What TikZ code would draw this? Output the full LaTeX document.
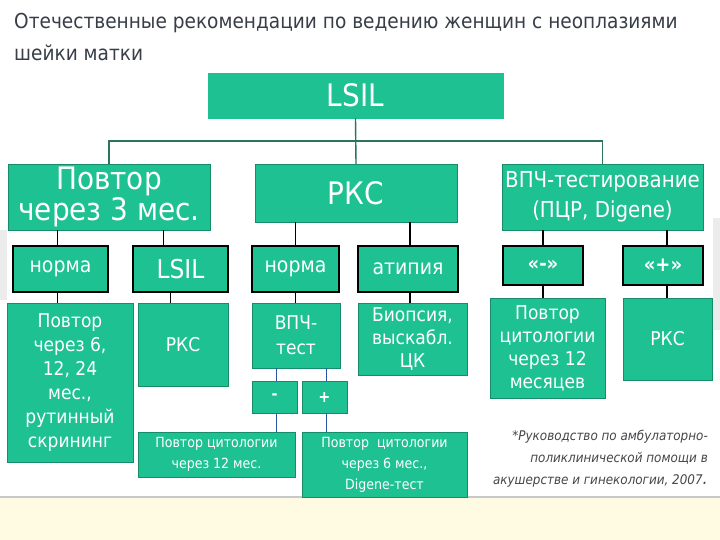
\documentclass[tikz,border=0pt]{standalone}
\usepackage{fontspec}
\setmainfont{DejaVu Sans}[FakeStretch=0.9]
\usepackage{xcolor}
\usepackage{tikz}
\usetikzlibrary{positioning, calc}
\definecolor{boxfill}{RGB}{30, 193, 146}
\definecolor{boxborder}{RGB}{22, 140, 105}
\definecolor{treeline}{RGB}{45, 115, 95}
\definecolor{testline}{RGB}{40, 85, 165}
\definecolor{titletext}{RGB}{55, 62, 72}
\definecolor{notetext}{RGB}{70, 70, 75}
\definecolor{bandfill}{RGB}{255, 250, 226}
\definecolor{bandedge}{RGB}{200, 200, 200}
\definecolor{sideshade}{RGB}{236, 236, 236}
\tikzset{
  baseblock/.style={
    rectangle, anchor=north west, inner sep=0pt, outer sep=0pt,
    fill=boxfill, text=white, align=center
  },
  topblock/.style={baseblock, draw=boxfill},
  stepblock/.style={baseblock, draw=boxborder, line width=0.8pt},
  resultblock/.style={baseblock, draw=black, line width=1.6pt},
  treelink/.style={draw=treeline, line width=1.4pt},
  stemlink/.style={draw=black, line width=1.6pt},
  testlink/.style={draw=testline, line width=1pt}
}

\begin{document}
\begin{tikzpicture}[x=1pt, y=-1pt]
  \useasboundingbox (0,0) rectangle (720,540);
  \fill[white] (0,0) rectangle (720,540);
  \fill[sideshade] (0,230) rectangle (7,300);
  \fill[sideshade] (713,218) rectangle (720,330);
  \fill[bandfill] (0,497) rectangle (720,540);
  \draw[bandedge, line width=2pt] (0,497) -- (720,497);

  % heading
  \node[anchor=north west, align=left, text=titletext, inner sep=0pt,
        font=\fontsize{20.6}{32}\selectfont] (heading) at (14,13)
    {Отечественные рекомендации по ведению женщин с неоплазиями\\шейки матки};

  % level 1 and 2
  \node[topblock, minimum width=295pt, minimum height=45pt,
        font=\fontsize{31}{34}\selectfont] (lsil) at (208,73) {LSIL};

  \node[stepblock, minimum width=202pt, minimum height=66pt,
        font=\fontsize{31}{29}\selectfont] (repeat3) at (8,164) {Повтор\\через 3 мес.};
  \node[stepblock, minimum width=202pt, minimum height=58pt,
        font=\fontsize{31}{32}\selectfont] (rks) at (255,164) {РКС};
  \node[stepblock, minimum width=201pt, minimum height=66pt,
        font=\fontsize{22}{30}\selectfont] (hpvpcr) at (502,164) {ВПЧ-тестирование\\(ПЦР, Digene)};

  % level 3
  \node[resultblock, minimum width=95pt, minimum height=46pt,
        font=\fontsize{21}{24}\selectfont] (normA) at (13,246) {норма};
  \node[resultblock, minimum width=95pt, minimum height=46pt,
        font=\fontsize{26}{28}\selectfont] (lsilB) at (133,246) {LSIL};
  \node[resultblock, minimum width=87pt, minimum height=46pt,
        font=\fontsize{21}{24}\selectfont] (normB) at (252,246) {норма};
  \node[resultblock, minimum width=100pt, minimum height=46pt,
        font=\fontsize{21}{24}\selectfont] (atypia) at (358,246) {атипия};
  \node[resultblock, minimum width=80pt, minimum height=39pt,
        font=\bfseries\fontsize{20}{22}\selectfont] (negres) at (503,246) {«-»};
  \node[resultblock, minimum width=80pt, minimum height=39pt,
        font=\bfseries\fontsize{20}{22}\selectfont] (posres) at (623,246) {«+»};

  % level 4
  \node[stepblock, minimum width=126pt, minimum height=159pt,
        font=\fontsize{19}{24}\selectfont] (repeatA) at (7,303)
    {Повтор\\через 6,\\12, 24\\мес.,\\рутинный\\скрининг};
  \node[stepblock, minimum width=90pt, minimum height=83pt,
        font=\fontsize{19}{24}\selectfont] (rksB) at (138,303) {РКС};
  \node[stepblock, minimum width=88pt, minimum height=65pt,
        font=\fontsize{19}{25}\selectfont] (hpvtest) at (252,303) {ВПЧ-\\тест};
  \node[stepblock, minimum width=109pt, minimum height=72pt,
        font=\fontsize{19}{23}\selectfont] (biopsy) at (358,303) {Биопсия,\\выскабл.\\ЦК};
  \node[stepblock, minimum width=115pt, minimum height=100pt,
        font=\fontsize{19}{23}\selectfont] (repeatB) at (490,298)
    {Повтор\\цитологии\\через 12\\месяцев};
  \node[stepblock, minimum width=89pt, minimum height=82pt,
        font=\fontsize{19}{24}\selectfont] (rksC) at (623,298) {РКС};

  % level 5 and 6
  \node[stepblock, minimum width=45pt, minimum height=32pt,
        font=\bfseries\fontsize{16}{18}\selectfont] (minus) at (252,381) {-};
  \node[stepblock, minimum width=45pt, minimum height=32pt,
        font=\bfseries\fontsize{16}{18}\selectfont] (plus) at (302,381) {+};
  \node[stepblock, minimum width=157pt, minimum height=45pt,
        font=\fontsize{14}{21}\selectfont] (cytoA) at (138,432)
    {Повтор цитологии\\через 12 мес.};
  \node[stepblock, minimum width=165pt, minimum height=65pt,
        font=\fontsize{14}{21}\selectfont] (cytoB) at (302,432)
    {Повтор~ цитологии\\через 6 мес.,\\Digene-тест};

  % source note
  \node[anchor=north east, align=right, inner sep=0pt, text=notetext,
        font=\itshape\fontsize{13.3}{22}\selectfont] (source) at (708,430)
    {*Руководство по амбулаторно-\\поликлинической помощи в\\акушерстве и гинекологии, 2007{\fontsize{18}{22}\selectfont .}};

  % tree
  \draw[treelink] (lsil.south) -- (rks.north);
  \draw[treelink] (repeat3.north) -- ++(0,-23) -| (hpvpcr.north);

  \draw[stemlink] ([xshift=-3pt]normA.north) -- ([xshift=-3pt]normA.north |- repeat3.south);
  \draw[stemlink] ([xshift=-17pt]lsilB.north) -- ([xshift=-17pt]lsilB.north |- repeat3.south);
  \draw[stemlink] (normB.north) -- (normB.north |- rks.south);
  \draw[stemlink] ([xshift=2pt]atypia.north) -- ([xshift=2pt]atypia.north |- rks.south);
  \draw[stemlink] (negres.north) -- (negres.north |- hpvpcr.south);
  \draw[stemlink] ([xshift=4pt]posres.north) -- ([xshift=4pt]posres.north |- hpvpcr.south);

  \draw[stemlink] ([xshift=-3pt]normA.south) -- ([xshift=-3pt]normA.south |- repeatA.north);
  \draw[stemlink] ([xshift=-10pt]lsilB.south) -- ([xshift=-10pt]lsilB.south |- rksB.north);
  \draw[stemlink] (normB.south) -- (normB.south |- hpvtest.north);
  \draw[stemlink] ([xshift=2pt]atypia.south) -- ([xshift=2pt]atypia.south |- biopsy.north);
  \draw[stemlink] (negres.south) -- (negres.south |- repeatB.north);
  \draw[stemlink] ([xshift=4pt]posres.south) -- ([xshift=4pt]posres.south |- rksC.north);

  \draw[testlink] ([xshift=2pt]minus.north) -- ([xshift=2pt]minus.north |- hpvtest.south);
  \draw[testlink] ([xshift=2pt]plus.north) -- ([xshift=2pt]plus.north |- hpvtest.south);
  \draw[testlink] ([xshift=2pt]minus.south) -- ([xshift=2pt]minus.south |- cytoA.north);
  \draw[testlink] ([xshift=2pt]plus.south) -- ([xshift=2pt]plus.south |- cytoB.north);
\end{tikzpicture}
\end{document}
